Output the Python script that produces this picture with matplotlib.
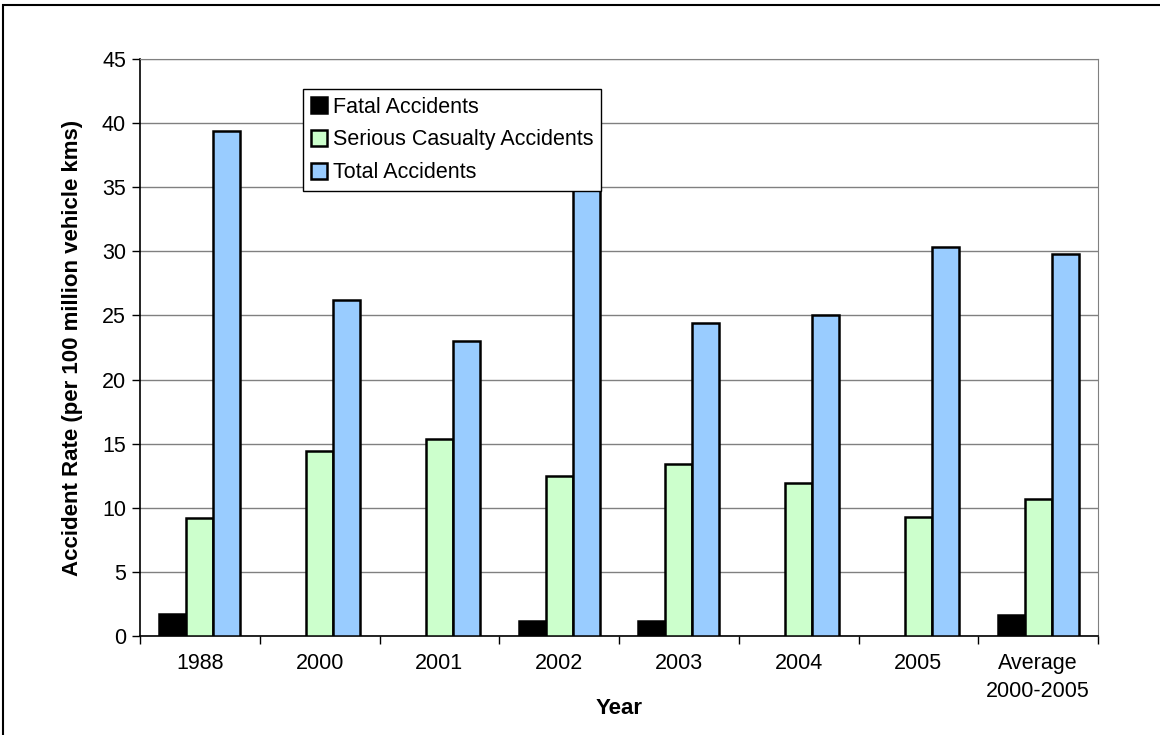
import matplotlib
matplotlib.use("Agg")
import matplotlib.pyplot as plt
import numpy as np
from matplotlib.patches import Rectangle

plt.rcParams['font.family'] = ['Liberation Sans', 'DejaVu Sans']

# Accident rates per 100 million vehicle kms
years = ['1988', '2000', '2001', '2002', '2003', '2004', '2005', 'Average\n2000-2005']
fatal = [1.7, 0, 0, 1.2, 1.2, 0, 0, 1.6]
serious = [9.2, 14.4, 15.4, 12.5, 13.4, 11.9, 9.3, 10.7]
total = [39.4, 26.2, 23.0, 38.0, 24.4, 25.0, 30.3, 29.8]

series = [
    ('Fatal Accidents', fatal, '#000000'),
    ('Serious Casualty Accidents', serious, '#CCFFCC'),
    ('Total Accidents', total, '#99CCFF'),
]

fig = plt.figure(figsize=(11.6, 7.35), dpi=100)
ax = fig.add_axes([140 / 1160, 1 - 636 / 735, (1098 - 140) / 1160, (636 - 59) / 735])

# outer frame of the chart
fig.patches.append(Rectangle((3 / 1160, -0.1), 1.2, 1 - 5 / 735 + 0.1,
                             transform=fig.transFigure, fill=False,
                             edgecolor='black', linewidth=1.5))

x = np.arange(len(years))
w = 0.225
for i, (name, vals, col) in enumerate(series):
    vals = np.array(vals, dtype=float)
    vals[vals == 0] = np.nan
    ax.bar(x + (i - 1) * w, vals, w, color=col, edgecolor='black',
           linewidth=1.8, label=name, zorder=3)

ax.set_xlim(-0.5, len(years) - 0.5)
ax.set_ylim(0, 45)
ax.set_yticks(np.arange(0, 46, 5))
ax.yaxis.grid(True, color='#808080', linewidth=1, zorder=0)
ax.set_axisbelow(True)

# ticks between categories, labels at centres
ax.set_xticks(np.arange(-0.5, len(years), 1))
ax.set_xticklabels([])
ax.set_xticks(x, minor=True)
ax.set_xticklabels(years, minor=True, fontsize=15.5, linespacing=1.45)
ax.tick_params(axis='x', which='major', length=6, width=1, color='black', direction='out')
ax.tick_params(axis='x', which='minor', length=0, pad=12)
ax.tick_params(axis='y', length=6, width=1, labelsize=15.5, pad=4)

for side in ['top', 'right']:
    ax.spines[side].set_color('#808080')
for side in ['left', 'bottom']:
    ax.spines[side].set_color('black')
    ax.spines[side].set_linewidth(1.2)

ax.set_ylabel('Accident Rate (per 100 million vehicle kms)', fontsize=16,
              fontweight='bold', labelpad=14)
ax.set_xlabel('Year', fontsize=16, fontweight='bold', labelpad=-3)

leg = ax.legend(loc='upper left', bbox_to_anchor=((303 - 140) / 958, (636 - 89) / 577),
                fontsize=15.5, frameon=True, fancybox=False, shadow=False,
                framealpha=1, handlelength=0.75, handleheight=0.75,
                handletextpad=0.3, borderpad=0.35, labelspacing=0.55,
                borderaxespad=0)
leg.get_frame().set_edgecolor('black')
leg.get_frame().set_linewidth(1)
leg.set_zorder(5)

fig.savefig('out.png', dpi=100)
